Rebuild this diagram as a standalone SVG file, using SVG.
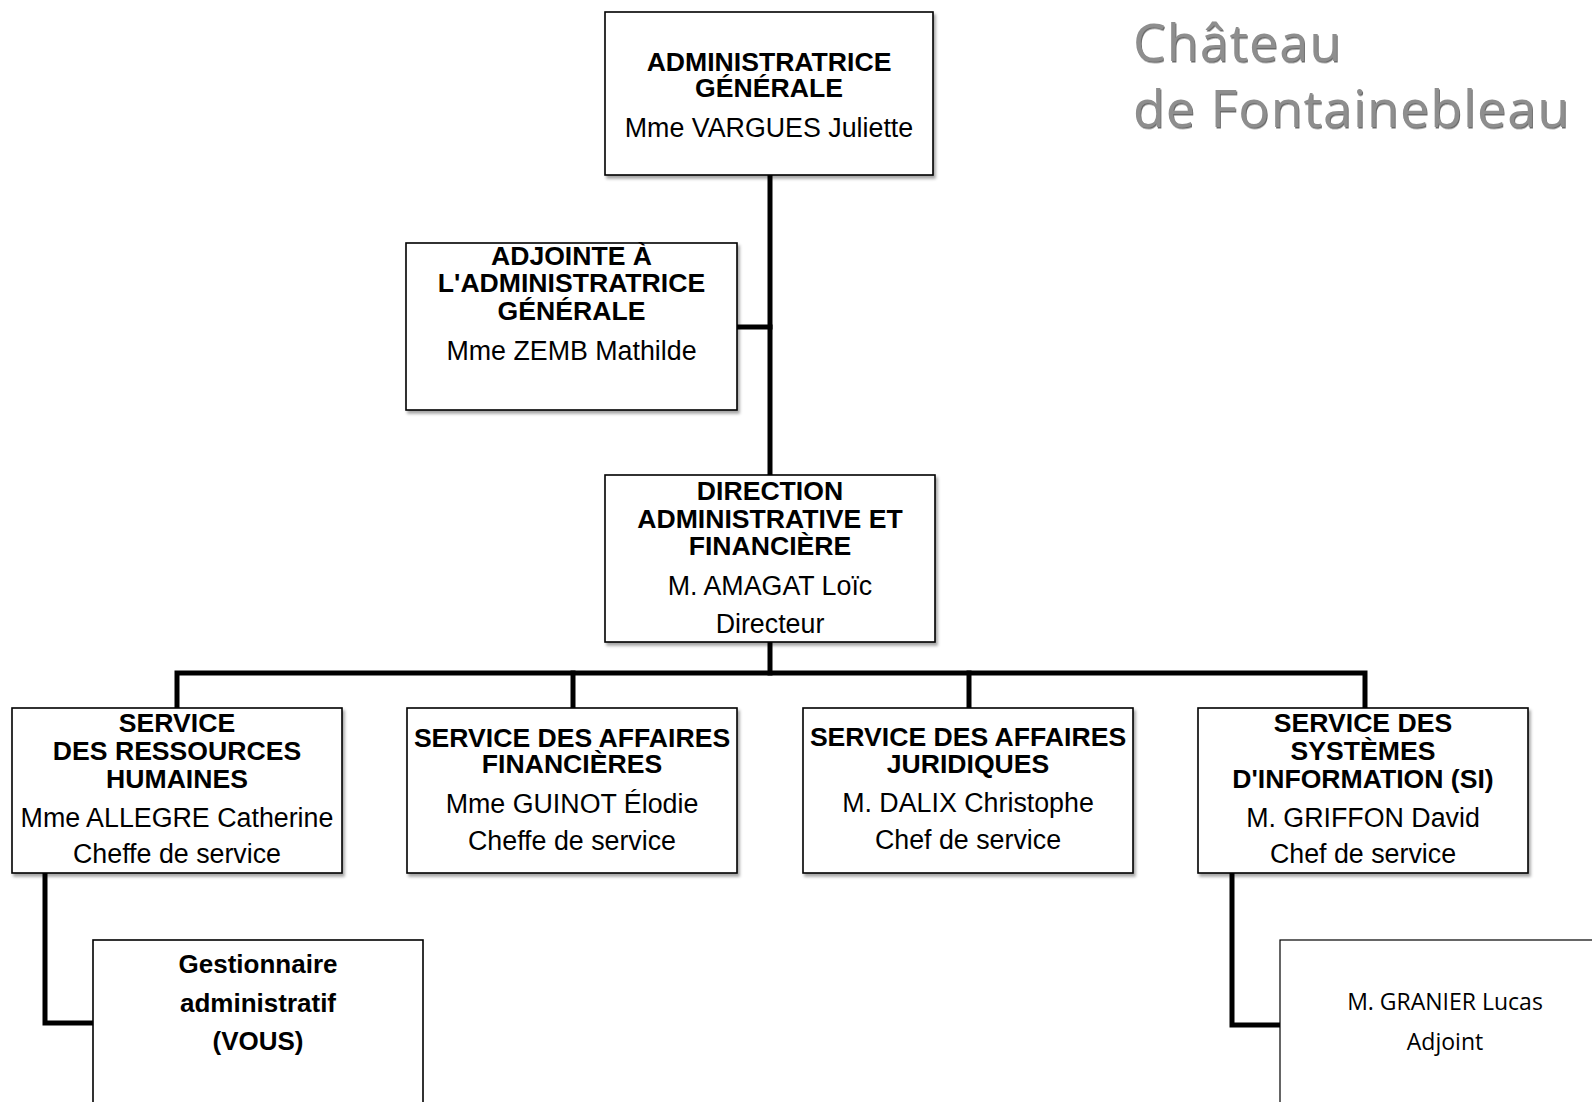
<svg xmlns="http://www.w3.org/2000/svg" width="1592" height="1102" viewBox="0 0 1592 1102">
<defs>
<filter id="shadow" x="-5%" y="-5%" width="115%" height="115%">
<feDropShadow dx="2" dy="3" stdDeviation="1.5" flood-color="#000" flood-opacity="0.35"/>
</filter>
<filter id="emboss" x="-5%" y="-10%" width="110%" height="130%">
<feDropShadow dx="1" dy="1.5" stdDeviation="0.6" flood-color="#444" flood-opacity="0.8"/>
</filter>
</defs>
<style>
.box{fill:#fff;stroke:#000;stroke-width:1.6}
.thin{fill:#fff;stroke:#000;stroke-width:1.2}
.b{font-family:"Liberation Sans",Arial,sans-serif;font-weight:bold;font-size:26.6px;fill:#000;text-anchor:middle}
.r{font-family:"Liberation Sans",Arial,sans-serif;font-size:26.8px;fill:#000;text-anchor:middle}
.g{font-family:"Liberation Sans",Arial,sans-serif;font-weight:bold;font-size:26px;fill:#000;text-anchor:middle}
.c{font-family:"Open Sans","Noto Sans",sans-serif;font-size:23px;fill:#000;text-anchor:middle}
.logo{font-family:"Open Sans","Noto Sans",sans-serif;font-size:52px;letter-spacing:1px;fill:#8e8e8e}
.ln{fill:none;stroke:#000;stroke-width:5;stroke-linecap:square;stroke-linejoin:miter}
</style>
<rect width="1592" height="1102" fill="#fff"/>

<g id="logo" filter="url(#emboss)">
<text class="logo" x="1133" y="61">Château</text>
<text class="logo" x="1133" y="127">de Fontainebleau</text>
</g>

<g id="connectors">
<path class="ln" d="M770,176 V474"/>
<path class="ln" d="M738,327 H770"/>
<path class="ln" d="M770,643 V673"/>
<path class="ln" d="M177,707 V673 H1365 V707"/>
<path class="ln" d="M573,673 V707"/>
<path class="ln" d="M969,673 V707"/>
<path class="ln" d="M45,874 V1023 H92"/>
<path class="ln" d="M1232,874 V1025 H1279"/>
</g>

<g id="admin-generale">
<rect class="box" filter="url(#shadow)" x="605" y="12" width="328" height="163"/>
<text class="b" x="769" y="71">ADMINISTRATRICE</text>
<text class="b" x="769" y="97">GÉNÉRALE</text>
<text class="r" x="769" y="137">Mme VARGUES Juliette</text>
</g>

<g id="adjointe">
<rect class="box" filter="url(#shadow)" x="406" y="243" width="331" height="167"/>
<text class="b" x="571.5" y="265">ADJOINTE À</text>
<text class="b" x="571.5" y="292">L'ADMINISTRATRICE</text>
<text class="b" x="571.5" y="320">GÉNÉRALE</text>
<text class="r" x="571.5" y="360">Mme ZEMB Mathilde</text>
</g>

<g id="daf">
<rect class="box" filter="url(#shadow)" x="605" y="475" width="330" height="167"/>
<text class="b" x="770" y="500">DIRECTION</text>
<text class="b" x="770" y="528">ADMINISTRATIVE ET</text>
<text class="b" x="770" y="555">FINANCIÈRE</text>
<text class="r" x="770" y="595">M. AMAGAT Loïc</text>
<text class="r" x="770" y="633">Directeur</text>
</g>

<g id="srh">
<rect class="box" filter="url(#shadow)" x="12" y="708" width="330" height="165"/>
<text class="b" x="177" y="732">SERVICE</text>
<text class="b" x="177" y="760">DES RESSOURCES</text>
<text class="b" x="177" y="788">HUMAINES</text>
<text class="r" x="177" y="827">Mme ALLEGRE Catherine</text>
<text class="r" x="177" y="863">Cheffe de service</text>
</g>

<g id="saf">
<rect class="box" filter="url(#shadow)" x="407" y="708" width="330" height="165"/>
<text class="b" x="572" y="747">SERVICE DES AFFAIRES</text>
<text class="b" x="572" y="773">FINANCIÈRES</text>
<text class="r" x="572" y="813">Mme GUINOT Élodie</text>
<text class="r" x="572" y="850">Cheffe de service</text>
</g>

<g id="saj">
<rect class="box" filter="url(#shadow)" x="803" y="708" width="330" height="165"/>
<text class="b" x="968" y="746">SERVICE DES AFFAIRES</text>
<text class="b" x="968" y="773">JURIDIQUES</text>
<text class="r" x="968" y="812">M. DALIX Christophe</text>
<text class="r" x="968" y="849">Chef de service</text>
</g>

<g id="ssi">
<rect class="box" filter="url(#shadow)" x="1198" y="708" width="330" height="165"/>
<text class="b" x="1363" y="732">SERVICE DES</text>
<text class="b" x="1363" y="760">SYSTÈMES</text>
<text class="b" x="1363" y="788">D'INFORMATION (SI)</text>
<text class="r" x="1363" y="827">M. GRIFFON David</text>
<text class="r" x="1363" y="863">Chef de service</text>
</g>

<g id="gestionnaire">
<rect class="box" x="93" y="940" width="330" height="180"/>
<text class="g" x="258" y="973">Gestionnaire</text>
<text class="g" x="258" y="1012">administratif</text>
<text class="g" x="258" y="1050">(VOUS)</text>
</g>

<g id="granier">
<rect class="thin" x="1280" y="940" width="330" height="180"/>
<text class="c" x="1445" y="1010">M. GRANIER Lucas</text>
<text class="c" x="1445" y="1050">Adjoint</text>
</g>
</svg>
